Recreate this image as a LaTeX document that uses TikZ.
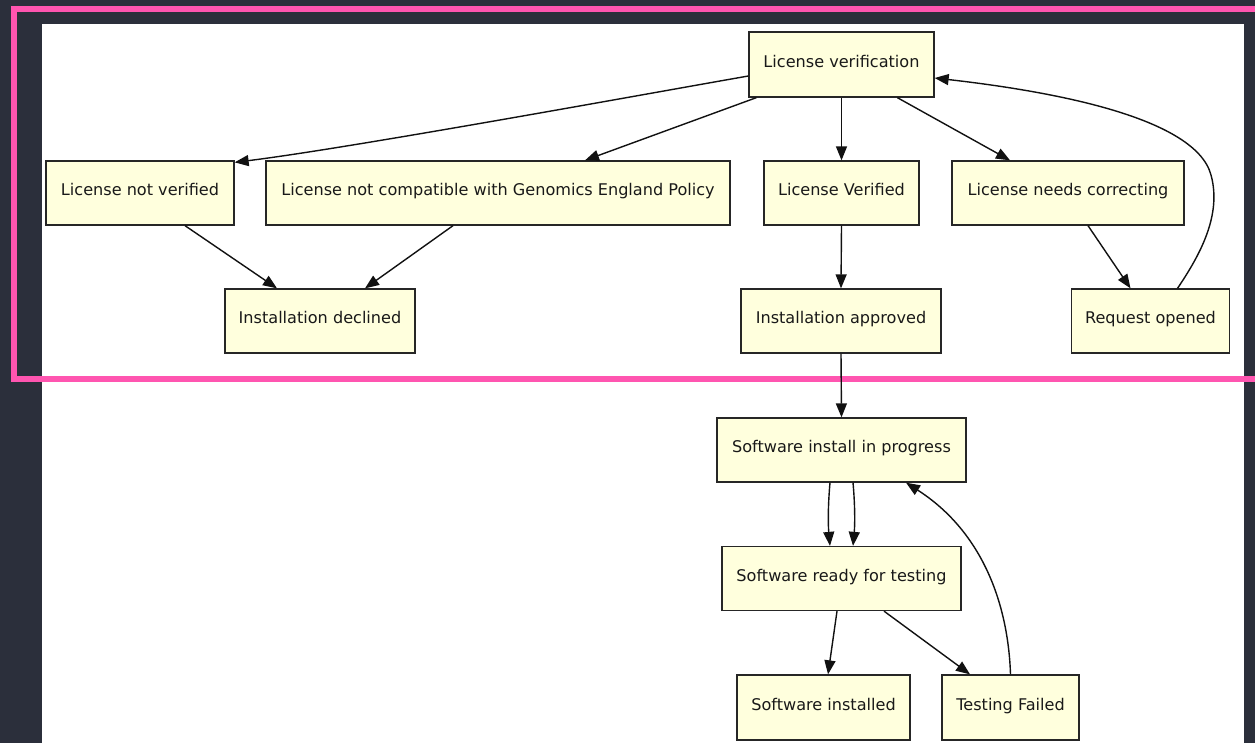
\documentclass[tikz,border=0pt]{standalone}
\usepackage{fontspec}
\setmainfont{DejaVu Sans}
\usetikzlibrary{arrows.meta,calc}
\definecolor{bgdark}{HTML}{2B2F3B}
\definecolor{pinkframe}{HTML}{FF55B0}
\definecolor{nodefill}{HTML}{FFFFDD}
\definecolor{edgecol}{HTML}{111111}
\tikzset{
  state/.style={draw=black!85, line width=1.3pt, fill=nodefill, rectangle,
    inner sep=0pt, text=black!90, text height=0.76em, text depth=0.2em,
    font=\fontsize{16.1}{19}\selectfont},
  edge/.style={draw=edgecol, line width=1.4pt, -{Triangle[length=14pt,width=11pt]}}
}
\begin{document}
\begin{tikzpicture}[x=1pt,y=-1pt]
\useasboundingbox (0,0) rectangle (1255,743);
\fill[bgdark] (0,0) rectangle (1255,743);
\fill[white] (42,24) rectangle (1244,743);
\draw[pinkframe, line width=6pt] (1258,9) -- (14,9) -- (14,378.5) -- (1258,378.5);

% nodes
\node[state, minimum width=185pt, minimum height=65pt] (lv) at (841.5,64.5) {License verification};
\node[state, minimum width=188pt, minimum height=64pt] (lnv) at (140,193) {License not verified};
\node[state, minimum width=464pt, minimum height=64pt] (lnc) at (498,193) {License not compatible with Genomics England Policy};
\node[state, minimum width=155pt, minimum height=64pt] (lvd) at (841.5,193) {License Verified};
\node[state, minimum width=232pt, minimum height=64pt] (lcor) at (1068,193) {License needs correcting};
\node[state, minimum width=190pt, minimum height=64pt] (idec) at (320,321) {Installation declined};
\node[state, minimum width=200pt, minimum height=64pt] (iapp) at (841,321) {Installation approved};
\node[state, minimum width=158pt, minimum height=64pt] (ro) at (1150.5,321) {Request opened};
\node[state, minimum width=249pt, minimum height=64pt] (sip) at (841.5,450) {Software install in progress};
\node[state, minimum width=239pt, minimum height=64pt] (srt) at (841.5,578.5) {Software ready for testing};
\node[state, minimum width=173pt, minimum height=65pt] (si) at (823.5,707.5) {Software installed};
\node[state, minimum width=137pt, minimum height=65pt] (tf) at (1010.5,707.5) {Testing Failed};

% edges
\draw[edge] ([yshift=-11.5pt]lv.west) .. controls (640,95) and (350,148) .. ([yshift=-2pt]lnv.north east);
\draw[edge] ([xshift=8pt]lv.south west) -- ([xshift=87pt]lnc.north);
\draw[edge] (lv.south) -- (lvd.north);
\draw[edge] ([xshift=149pt]lv.south west) -- ([xshift=-58pt]lcor.north);
\draw[edge] ([xshift=45pt]lnv.south) -- ([xshift=-43pt]idec.north);
\draw[edge] ([xshift=-45pt]lnc.south) -- ([xshift=45pt]idec.north);
\draw[edge] (lvd.south) -- (iapp.north);
\draw[edge] ([xshift=20pt]lcor.south) -- ([xshift=-20pt]ro.north);
\coordinate (rturn) at (1211,175);
\draw[edge] ([xshift=27pt]ro.north) .. controls (1200,255) and (1222,215) .. (rturn)
  .. controls (1195,115) and (1040,90) .. ([yshift=-13.5pt]lv.east);
\draw[edge] (iapp.south) -- (sip.north);
\draw[edge] ([xshift=-11.5pt]sip.south) .. controls +(-2,22) and +(-2,-22) .. ([xshift=-11.5pt]srt.north);
\draw[edge] ([xshift=11.5pt]sip.south) .. controls +(2,22) and +(2,-22) .. ([xshift=11.5pt]srt.north);
\draw[edge] ([xshift=-4.5pt]srt.south) -- ([xshift=4.5pt]si.north);
\draw[edge] ([xshift=42.5pt]srt.south) -- ([xshift=-40.5pt]tf.north);
\draw[edge] (tf.north) .. controls (1008,600) and (980,530) .. ([xshift=64.5pt]sip.south);
\end{tikzpicture}
\end{document}
